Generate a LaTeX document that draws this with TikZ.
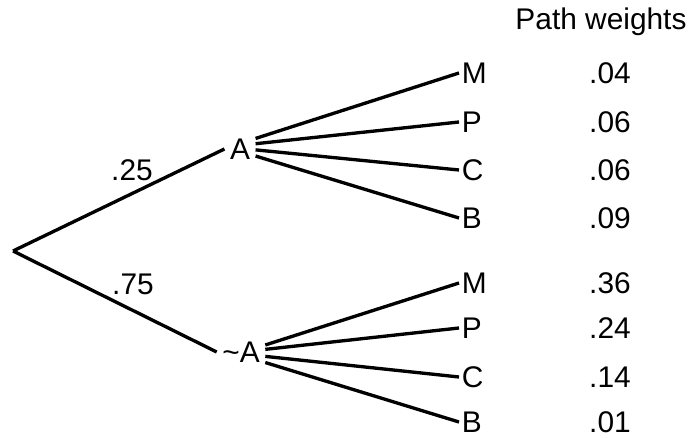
\documentclass[tikz,border=0pt]{standalone}
\usepackage{fontspec}
\setmainfont{Liberation Sans}
\begin{document}
\begin{tikzpicture}[x=0.02cm,y=-0.02cm,
  every node/.style={font=\fontsize{17}{20}\selectfont},
  branch/.style={line width=1.9pt},
  lab/.style={inner sep=3pt},
  leaf/.style={inner sep=1.5pt,anchor=west},
  weight/.style={inner sep=1pt}]
\useasboundingbox (0,0) rectangle (693,438);
\coordinate (root) at (13,251);
\node[lab] (A) at (240,149) {A};
\node[lab] (notA) at (241,352) {\textasciitilde A};
  \draw[branch] (root) -- (A.west);
  \draw[branch] (root) -- (notA.west);
\node (p25) at (132,170) {.25};
\node (p75) at (133,284) {.75};
\node (head) at (601,22) {Path weights};
% leaves after A
\foreach \n/\t/\y/\s/\w in {aM/M/73/6/.04, aP/P/122/3/.06, aC/C/170/-0.5/.06, aB/B/218/-4/.09}{
  \node[leaf] (\n) at (459,\y) {\t};
  \node[weight] (w\n) at (610,\y) {\w};
  \draw[branch] ([yshift=\s pt]A.east) -- (\n.west);
}
% leaves after not A
\foreach \n/\t/\y/\s/\w in {nM/M/283/4/.36, nP/P/328/1.5/.24, nC/C/377/-2.5/.14, nB/B/422/-6/.01}{
  \node[leaf] (\n) at (459,\y) {\t};
  \node[weight] (w\n) at (610,\y) {\w};
  \draw[branch] ([yshift=\s pt]notA.east) -- (\n.west);
}
\end{tikzpicture}
\end{document}
